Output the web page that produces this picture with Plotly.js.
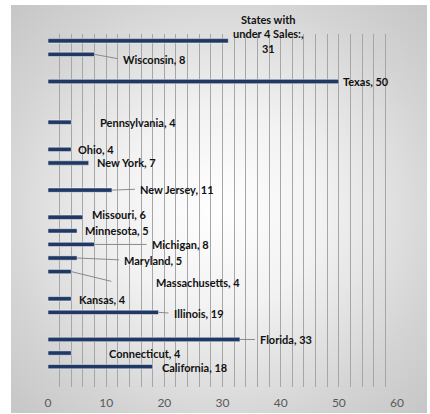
<!DOCTYPE html>
<html>
<head>
<meta charset="utf-8">
<script src="https://cdn.plot.ly/plotly-3.0.1.min.js"></script>
<style>
  html, body { margin: 0; padding: 0; background: #ffffff; }
  #wrap { position: relative; width: 430px; height: 414px; }
  #bg { position: absolute; left: 11px; top: 5px; width: 416px; height: 408px;
        background: radial-gradient(ellipse at 50% 50%, #ffffff 0%, #f2f2f2 35%, #d4d4d4 75%, #c6c6c6 100%); }
  #chart { position: absolute; left: 0; top: 0; width: 430px; height: 414px; }
</style>
</head>
<body>
<div id="wrap"><div id="bg"></div><div id="chart"></div></div>
<script>
// Categories bottom-to-top (blank strings are empty slots in the category axis)
const categories = [
  " ", "California", "Connecticut", "Florida", "  ", "Illinois", "Kansas", "   ",
  "Massachusetts", "Maryland", "Michigan", "Minnesota", "Missouri", "    ",
  "New Jersey", "     ", "New York", "Ohio", "      ", "Pennsylvania", "       ",
  "        ", "Texas", "         ", "Wisconsin", "States with under 4 Sales:"
];
const sales = [
  null, 18, 4, 33, null, 19, 4, null,
  4, 5, 8, 5, 6, null,
  11, null, 7, 4, null, 4, null,
  null, 50, null, 8, 31
];
const labelTexts = {
  "States with under 4 Sales:": "States with<br>under 4 Sales:,<br>31"
};
const xTickVals = [0, 10, 20, 30, 40, 50, 60];

// label placement (pixel offsets from bar end); lead = leader line drawn to label
const labelPlacement = {
  "States with under 4 Sales:": {ax: 40, ay: -7, anchor: "center"},
  "Wisconsin": {ax: 27, ay: 5, lead: true},
  "Texas": {ax: 3, ay: 0},
  "Pennsylvania": {ax: 28, ay: 0},
  "Ohio": {ax: 6, ay: 0},
  "New York": {ax: 7, ay: 0},
  "New Jersey": {ax: 27, ay: -1, lead: true},
  "Missouri": {ax: 8, ay: -3},
  "Minnesota": {ax: 7, ay: 0},
  "Michigan": {ax: 56, ay: 0, lead: true},
  "Maryland": {ax: 46, ay: 2, lead: true},
  "Massachusetts": {ax: 84, ay: 11, line: {ax: 41, ay: 10}},
  "Kansas": {ax: 7, ay: 1},
  "Illinois": {ax: 14, ay: 1, lead: true},
  "Florida": {ax: 19, ay: 0, lead: true},
  "Connecticut": {ax: 37, ay: 0},
  "California": {ax: 8, ay: 1}
};

const labelFont = {family: "Lato, 'Open Sans', sans-serif", size: 11, color: "#111111", weight: "bold"};
const annotations = [];
categories.forEach((c, i) => {
  const v = sales[i];
  if (v === null) return;
  const p = labelPlacement[c];
  const txt = labelTexts[c] || (c + ", " + v);
  annotations.push({
    x: v, y: c, xref: "x", yref: "y",
    text: txt,
    showarrow: true,
    arrowhead: 0,
    arrowwidth: 1,
    arrowcolor: p.lead ? "#8a8a8a" : "rgba(0,0,0,0)",
    startstandoff: 4,
    ax: p.ax, ay: p.ay,
    xanchor: p.anchor || "left",
    yanchor: "middle",
    align: "center",
    borderpad: 0,
    font: labelFont
  });
  if (p.line) {
    annotations.push({
      x: v, y: c, xref: "x", yref: "y",
      text: " ",
      showarrow: true,
      arrowhead: 0,
      arrowwidth: 1,
      arrowcolor: "#8a8a8a",
      ax: p.line.ax, ay: p.line.ay,
      xanchor: "center", yanchor: "middle",
      borderpad: 0,
      font: {size: 2}
    });
  }
});

const trace = {
  type: "bar",
  orientation: "h",
  y: categories,
  x: sales,
  width: 0.32,
  marker: {color: "#203864", line: {color: "rgba(255,255,255,0.8)", width: 0.6}},
  hoverinfo: "x+y"
};

const layout = {
  width: 430, height: 414,
  margin: {l: 48, r: 33, t: 34, b: 27},
  paper_bgcolor: "rgba(0,0,0,0)",
  plot_bgcolor: "rgba(0,0,0,0)",
  showlegend: false,
  bargap: 0.7,
  xaxis: {
    range: [0, 60],
    tickvals: xTickVals,
    showgrid: true,
    gridcolor: "#a6a6a6",
    gridwidth: 1,
    minor: {dtick: 2, showgrid: true, gridcolor: "#a6a6a6", gridwidth: 1},
    zeroline: false,
    showline: false,
    ticks: "",
    ticklabelstandoff: 7,
    tickfont: {family: "Lato, 'Open Sans', sans-serif", size: 12, color: "#595959"},
    fixedrange: true
  },
  yaxis: {
    type: "category",
    categoryorder: "array",
    categoryarray: categories,
    range: [-0.5, categories.length - 0.5],
    showticklabels: false,
    showgrid: false,
    zeroline: false,
    showline: false,
    ticks: "",
    fixedrange: true
  },
  annotations: annotations
};

Plotly.newPlot("chart", [trace], layout, {displayModeBar: false, staticPlot: true});
</script>
</body>
</html>
